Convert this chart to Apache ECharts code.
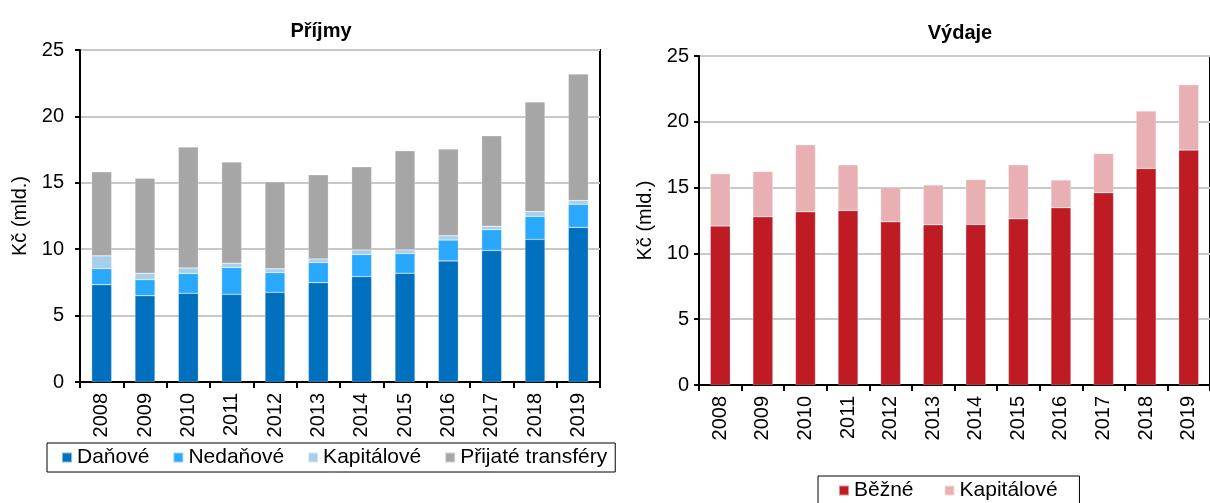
<!DOCTYPE html>
<html><head><meta charset="utf-8">
<script src="https://cdn.jsdelivr.net/npm/echarts@6/dist/echarts.min.js"></script>
<style>html,body{margin:0;padding:0;background:#fff}#c{width:1210px;height:503px}</style>
</head><body><div id="c"></div>
<script>
const years = ['2008','2009','2010','2011','2012','2013','2014','2015','2016','2017','2018','2019'];
const yTicks = [0, 5, 10, 15, 20, 25];
// Příjmy (income)
const danove     = [7.33, 6.50, 6.68, 6.60, 6.75, 7.48, 7.94, 8.19, 9.12, 9.90, 10.74, 11.64];
const nedanove   = [1.21, 1.21, 1.49, 2.02, 1.49, 1.52, 1.66, 1.49, 1.57, 1.57, 1.73, 1.74];
const kapitalPr  = [0.96, 0.48, 0.42, 0.33, 0.28, 0.27, 0.35, 0.27, 0.32, 0.25, 0.36, 0.28];
const transfery  = [6.33, 7.16, 9.10, 7.61, 6.55, 6.33, 6.25, 7.46, 6.53, 6.83, 8.26, 9.53];
// Výdaje (expenditure)
const bezne      = [12.09, 12.78, 13.16, 13.26, 12.40, 12.17, 12.19, 12.63, 13.47, 14.61, 16.45, 17.85];
const kapitalVy  = [3.97, 3.44, 5.09, 3.47, 2.62, 3.03, 3.42, 4.10, 2.11, 2.98, 4.37, 4.96];

const FONT = 'Liberation Sans, Arial, sans-serif';
const chart = echarts.init(document.getElementById('c'), null, {renderer: 'canvas'});

function xAxis(gi) {
  return {
    type: 'category', gridIndex: gi, data: years,
    axisLine: {lineStyle: {color: '#000', width: 2}},
    axisTick: {show: true, interval: 0, length: 6, lineStyle: {color: '#000', width: 2}},
    axisLabel: {rotate: 90, interval: 0, margin: 11, color: '#000', fontSize: 20, fontFamily: FONT}
  };
}
function yAxis(gi, gap, margin) {
  return {
    type: 'value', gridIndex: gi, min: yTicks[0], max: yTicks[yTicks.length - 1], interval: 5,
    name: 'Kč (mld.)', nameLocation: 'middle', nameGap: gap, nameRotate: 90,
    nameTextStyle: {color: '#000', fontSize: 20, fontFamily: FONT},
    axisLine: {show: true, lineStyle: {color: '#000', width: 2}},
    axisTick: {show: true, length: 5, lineStyle: {color: '#000', width: 2}},
    axisLabel: {color: '#000', fontSize: 20, fontFamily: FONT, margin: margin},
    splitLine: {show: true, lineStyle: {color: '#c8c8c8', width: 2}}
  };
}
function bar(name, data, color, gi) {
  return {
    name: name, type: 'bar', stack: 's' + gi, xAxisIndex: gi, yAxisIndex: gi,
    data: data, barWidth: 20,
    itemStyle: {color: color, borderColor: 'rgba(255,255,255,0.5)', borderWidth: 0.5},
    emphasis: {disabled: true}
  };
}

chart.setOption({
  animation: false,
  backgroundColor: '#fff',
  textStyle: {fontFamily: FONT},
  title: [
    {text: 'Příjmy', left: 316, top: 16, textAlign: 'center',
     textStyle: {fontSize: 20, fontWeight: 'bold', color: '#000', fontFamily: FONT}},
    {text: 'Výdaje', left: 955, top: 18, textAlign: 'center',
     textStyle: {fontSize: 20, fontWeight: 'bold', color: '#000', fontFamily: FONT}}
  ],
  grid: [
    {left: 80, right: 610, top: 50, bottom: 121, show: true, borderColor: '#000', borderWidth: 2, backgroundColor: 'transparent'},
    {left: 699, right: -10, top: 56, bottom: 118, show: true, borderColor: '#000', borderWidth: 2, backgroundColor: 'transparent'}
  ],
  legend: [
    {data: ['Daňové', 'Nedaňové', 'Kapitálové', 'Přijaté transféry'], left: 47, top: 443,
     icon: 'rect', itemWidth: 10, itemHeight: 10, itemGap: 23,
     borderColor: '#000', borderWidth: 1, padding: [4, 8, 4, 14],
     textStyle: {fontSize: 21, color: '#000', fontFamily: FONT}},
    {data: ['Běžné', 'Kapitálové '], left: 818, top: 476,
     icon: 'rect', itemWidth: 10, itemHeight: 10, itemGap: 30,
     borderColor: '#000', borderWidth: 1, padding: [4, 16, 4, 20],
     textStyle: {fontSize: 21, color: '#000', fontFamily: FONT}}
  ],
  xAxis: [xAxis(0), xAxis(1)],
  yAxis: [yAxis(0, 50, 16), yAxis(1, 44, 10)],
  series: [
    bar('Daňové', danove, '#0070BF', 0),
    bar('Nedaňové', nedanove, '#2AA8FC', 0),
    bar('Kapitálové', kapitalPr, '#A8CFEA', 0),
    bar('Přijaté transféry', transfery, '#A6A6A6', 0),
    bar('Běžné', bezne, '#BE1B24', 1),
    bar('Kapitálové ', kapitalVy, '#E8B0B3', 1)
  ]
});
</script></body></html>
